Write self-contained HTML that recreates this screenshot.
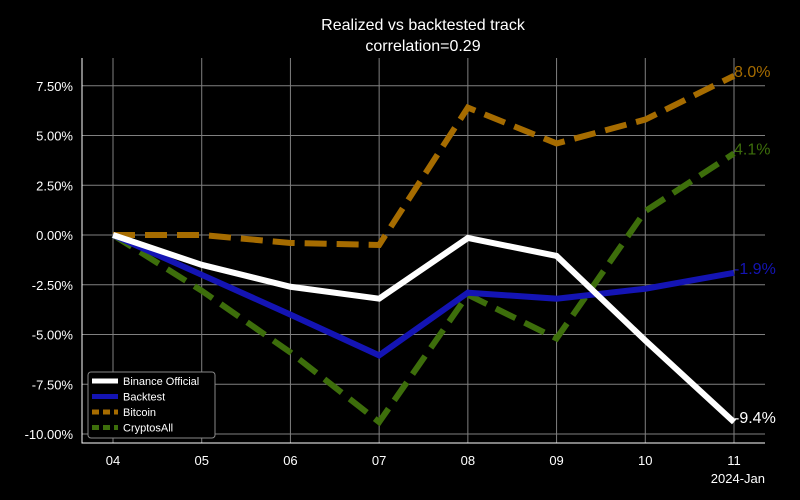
<!DOCTYPE html>
<html><head><meta charset="utf-8"><style>
html,body{margin:0;background:#000;overflow:hidden;width:800px;height:500px;}
svg{display:block;}
svg text{font-family:"Liberation Sans","DejaVu Sans",sans-serif;}
</style></head><body>
<svg id="chart" width="800" height="500" xmlns="http://www.w3.org/2000/svg">
<rect width="800" height="500" fill="#000"/>
<text x="423" y="30" fill="#fff" font-size="16" text-anchor="middle">Realized vs backtested track</text>
<text x="423" y="51" fill="#fff" font-size="16" text-anchor="middle">correlation=0.29</text>
<g id="grid"></g><g id="series"></g><g id="axes"></g>
</svg>
<script>
const categories=["04","05","06","07","08","09","10","11"];
const yTicks=[7.5,5,2.5,0,-2.5,-5,-7.5,-10];
const binance=[0,-1.5,-2.6,-3.2,-0.15,-1.05,-5.3,-9.4];
const backtest=[0,-2.0,-4.0,-6.05,-2.9,-3.2,-2.7,-1.9];
const bitcoin=[0,0,-0.4,-0.5,6.4,4.6,5.8,8.0];
const cryptos=[0,-2.8,-5.9,-9.4,-3.0,-5.2,1.2,4.1];
const seriesNames=["Binance Official","Backtest","Bitcoin","CryptosAll"];
const NS="http://www.w3.org/2000/svg";
const L=82,R=765,T=58,B=443;
function x(i){return 113+i*(734-113)/(categories.length-1);}
function y(v){return 235-v*19.9;}
function mk(t,a,p){const e=document.createElementNS(NS,t);for(const k in a)e.setAttribute(k,a[k]);p.appendChild(e);return e;}
const grid=document.getElementById('grid'),axes=document.getElementById('axes'),ser=document.getElementById('series');
categories.forEach((c,i)=>{
 const g=mk('line',{x1:x(i),x2:x(i),y1:T,y2:B,stroke:'#808080','stroke-width':1},grid);
 
 
 const t=mk('text',{x:x(i),y:465,fill:'#fff','font-size':13,'text-anchor':'middle'},axes);t.textContent=c;
 
 
});
yTicks.forEach(v=>{
 const g=mk('line',{x1:L,x2:R,y1:y(v),y2:y(v),stroke:'#808080','stroke-width':1},grid);
 
 
 const t=mk('text',{x:73,y:y(v)+5,fill:'#fff','font-size':13,'text-anchor':'end'},axes);t.textContent=v.toFixed(2)+'%';
 
 
});
const ax=mk('path',{d:`M${L},${T}V${B}H${R}`,stroke:'#fff','stroke-width':1,fill:'none'},axes);


const xl=mk('text',{x:765,y:483,fill:'#fff','font-size':13,'text-anchor':'end'},axes);xl.textContent='2024-Jan';


const defs=[[bitcoin,'#a66c00','22,10','bitcoin-line'],[cryptos,'#3d6e0b','22,10','cryptosall-line'],[backtest,'#1414b4','','backtest-line'],[binance,'#ffffff','','binance-official-line']];
defs.forEach(([d,col,dash,name])=>{
 const p=mk('path',{d:d.map((v,i)=>(i?'L':'M')+x(i)+','+y(v)).join(''),stroke:col,'stroke-width':6,fill:'none','stroke-dasharray':dash},ser);
 
 
 const last=d[d.length-1];
 const t=mk('text',{x:x(d.length-1),y:y(last)+1,fill:col,'font-size':16},ser);t.textContent=last.toFixed(1)+'%';
 
 
});
const lg=mk('g',{},axes);


mk('rect',{x:88,y:372,width:127,height:66,rx:3,fill:'#000',stroke:'#888'},lg);
const lc=['#ffffff','#1414b4','#a66c00','#3d6e0b'],ld=['','','7,4','7,4'];
seriesNames.forEach((n,i)=>{
 const yy=381+i*15.5;
 const l=mk('line',{x1:92,x2:118,y1:yy,y2:yy,stroke:lc[i],'stroke-width':5,'stroke-dasharray':ld[i]},lg);
 
 
 const t=mk('text',{x:123,y:yy+4,fill:'#fff','font-size':11},lg);t.textContent=n;
 
 
});
</script>
</body></html>
